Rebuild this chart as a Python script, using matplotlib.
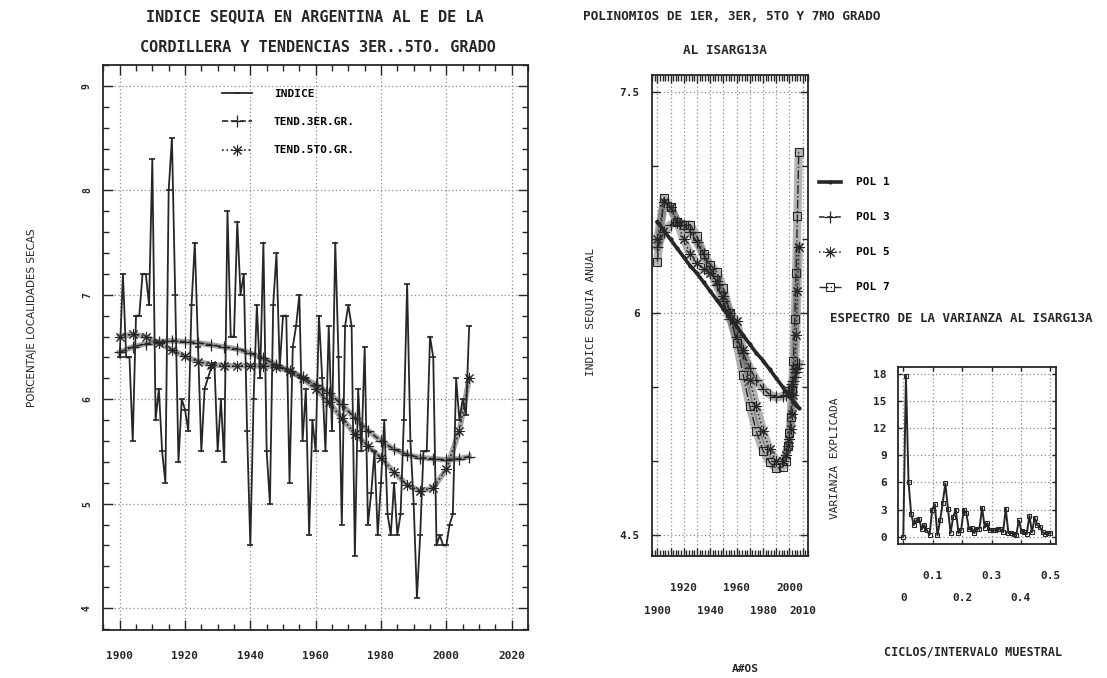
import numpy as np
import matplotlib.pyplot as plt
import matplotlib.transforms as mtransforms
from matplotlib.ticker import MultipleLocator

# ---------------- data ----------------
# left panel: yearly drought index 1900-2007 and its polynomial trends
indice = [6.4, 7.2, 6.4, 6.4, 5.6, 6.8, 6.8, 7.2, 7.2, 6.9,      # 1900-1909
          8.3, 5.8, 6.1, 5.5, 5.2, 8.0, 8.5, 7.0, 5.4, 6.0,      # 1910-1919
          5.9, 5.7, 6.9, 7.5, 6.5, 5.5, 6.1, 6.2, 6.3, 6.35,     # 1920-1929
          5.5, 6.0, 5.4, 7.8, 6.6, 6.6, 7.7, 7.0, 7.2, 5.7,      # 1930-1939
          4.6, 6.0, 6.9, 6.2, 7.5, 5.5, 5.0, 6.9, 7.4, 6.3,      # 1940-1949
          6.8, 6.8, 5.2, 6.5, 6.7, 7.0, 5.6, 6.1, 4.7, 5.8,      # 1950-1959
          5.5, 6.8, 6.2, 5.5, 6.7, 5.7, 7.5, 6.4, 4.8, 6.7,      # 1960-1969
          6.9, 6.7, 4.5, 6.1, 5.5, 6.5, 4.8, 5.1, 5.5, 4.7,      # 1970-1979
          5.2, 5.8, 4.9, 4.7, 5.2, 4.7, 4.9, 5.8, 7.1, 5.6,      # 1980-1989
          5.0, 4.1, 4.7, 5.5, 5.5, 6.6, 6.4, 4.6, 4.7, 4.6,      # 1990-1999
          4.6, 4.8, 4.9, 6.2, 5.8, 6.0, 5.85, 6.7]               # 2000-2007
anios = np.arange(1900, 1900 + len(indice))

anios_tend = [1900, 1904, 1908, 1912, 1916, 1920, 1924, 1928, 1932, 1936,
              1940, 1944, 1948, 1952, 1956, 1960, 1964, 1968, 1972, 1976,
              1980, 1984, 1988, 1992, 1996, 2000, 2004, 2007]
tend_3er = [6.45, 6.50, 6.53, 6.55, 6.56, 6.55, 6.54, 6.52, 6.50, 6.48,
            6.44, 6.39, 6.33, 6.27, 6.21, 6.14, 6.06, 5.95, 5.82, 5.70,
            5.60, 5.52, 5.47, 5.44, 5.43, 5.42, 5.43, 5.45]
tend_5to = [6.60, 6.62, 6.60, 6.54, 6.47, 6.41, 6.36, 6.33, 6.32, 6.32,
            6.32, 6.32, 6.31, 6.27, 6.20, 6.10, 5.97, 5.82, 5.67, 5.55,
            5.44, 5.30, 5.18, 5.12, 5.15, 5.33, 5.70, 6.20]

# middle panel: polynomial fits to ISARG13A
anios_pol = [1900, 1905, 1910, 1915, 1920, 1925, 1930, 1935, 1940, 1945,
             1950, 1955, 1960, 1965, 1970, 1975, 1980, 1985, 1990, 1995,
             1997, 1999, 2000, 2001, 2002, 2003, 2004, 2005, 2006, 2007]
pol_1 = [6.62, 6.56, 6.50, 6.44, 6.38, 6.32, 6.27, 6.21, 6.15, 6.09,
         6.03, 5.97, 5.91, 5.85, 5.79, 5.73, 5.68, 5.62, 5.56, 5.50,
         5.47, 5.45, 5.44, 5.43, 5.42, 5.40, 5.39, 5.38, 5.37, 5.36]
pol_3 = [6.45, 6.55, 6.60, 6.62, 6.60, 6.55, 6.48, 6.40, 6.30, 6.19,
         6.08, 5.96, 5.84, 5.73, 5.63, 5.55, 5.49, 5.45, 5.43, 5.44,
         5.45, 5.47, 5.48, 5.50, 5.52, 5.54, 5.57, 5.60, 5.63, 5.66]
pol_5 = [6.50, 6.75, 6.72, 6.62, 6.50, 6.40, 6.34, 6.30, 6.27, 6.22,
         6.12, 6.00, 5.95, 5.75, 5.55, 5.37, 5.20, 5.08, 5.00, 5.00,
         5.04, 5.10, 5.15, 5.22, 5.32, 5.45, 5.62, 5.85, 6.15, 6.45]
pol_7 = [6.35, 6.78, 6.72, 6.62, 6.60, 6.60, 6.52, 6.40, 6.33, 6.28,
         6.17, 6.00, 5.80, 5.58, 5.37, 5.20, 5.07, 4.99, 4.95, 4.96,
         5.00, 5.10, 5.19, 5.30, 5.48, 5.68, 5.96, 6.27, 6.66, 7.09]

# right panel: variance spectrum, harmonics 0..0.5 cycles/interval
varianza = [0.0, 17.8, 6.0, 2.5, 1.3, 1.8, 2.0, 0.8, 1.3, 0.7,
            0.2, 3.0, 3.6, 0.15, 1.8, 3.7, 5.9, 3.1, 0.4, 2.2,
            3.0, 0.4, 0.7, 3.0, 2.6, 0.8, 1.0, 0.4, 0.9, 0.9,
            3.2, 1.0, 1.5, 0.7, 0.7, 0.7, 0.9, 0.8, 0.5, 3.1,
            0.4, 0.4, 0.3, 0.2, 1.8, 0.6, 0.5, 0.3, 2.3, 0.5,
            2.1, 1.3, 1.1, 0.5, 0.3, 0.4, 0.4]
frecuencia = np.linspace(0, 0.5, len(varianza))

# ---------------- style ----------------
plt.rcParams['font.family'] = 'DejaVu Sans Mono'
plt.rcParams['font.weight'] = 'bold'
INK = '#262626'
BAND = '#5a5a5a'
GRID = '#8c8c8c'
W, H = 1107, 678
fig = plt.figure(figsize=(W / 100, H / 100), dpi=100)


def axes_px(left, top, right, bottom):
    return fig.add_axes([left / W, 1 - bottom / H, (right - left) / W, (bottom - top) / H])


def text_px(x, y, s, **kw):
    fig.text(x / W, 1 - y / H, s, **kw)


def stagger(ax, vals, labels, dy):
    tr = mtransforms.offset_copy(ax.get_xaxis_transform(), fig=fig, x=0, y=-dy, units='dots')
    for v, lab in zip(vals, labels):
        ax.text(v, 0, lab, transform=tr, ha='center', va='center', fontsize=8, color=INK)


def frame(ax):
    for s in ax.spines.values():
        s.set_linewidth(1.3)
        s.set_color(INK)
    ax.tick_params(which='both', direction='in', top=True, right=True, colors=INK, width=1)


# ---------------- left panel ----------------
ax1 = axes_px(103, 65, 528, 630)
# the plotter drew a marker every year on the trends -> heavy bands
ax1.plot(anios_tend, tend_3er, color=BAND, lw=4, alpha=0.55, zorder=1)
ax1.plot(anios_tend, tend_5to, color=BAND, lw=4, alpha=0.55, zorder=1)
l_ind, = ax1.plot(anios, indice, color=INK, lw=1.3, marker='_', ms=5, mew=1.2, zorder=3)
l_3er, = ax1.plot(anios_tend, tend_3er, color=INK, lw=1.2, ls='--', marker='+', ms=8, mew=0.9,
                  zorder=2)
l_5to, = ax1.plot(anios_tend, tend_5to, color=INK, lw=1.2, ls=':', marker=(8, 2, 0), ms=8,
                  mew=0.7, zorder=2)
ax1.set_xlim(1894.9, 2025)
ax1.set_ylim(3.79, 9.2)
ax1.xaxis.set_major_locator(MultipleLocator(20))
ax1.xaxis.set_minor_locator(MultipleLocator(5))
ax1.yaxis.set_major_locator(MultipleLocator(1))
ax1.yaxis.set_minor_locator(MultipleLocator(0.2))
ax1.grid(True, which='major', ls=(0, (1, 2)), color=GRID, lw=0.9)
frame(ax1)
ax1.tick_params(which='major', length=7)
ax1.tick_params(which='minor', length=4)
ax1.tick_params(axis='x', pad=15, labelsize=8)
ax1.tick_params(axis='y', pad=8, labelsize=7)
for t in ax1.get_yticklabels():
    t.set_rotation(90)
    t.set_va('center')
ax1.set_ylabel('PORCENTAJE LOCALIDADES SECAS', fontfamily='DejaVu Sans', fontweight='normal',
               fontsize=7.5, color=INK)
ax1.yaxis.set_label_coords(-0.155, 0.552)
ax1.legend([l_ind, l_3er, l_5to], ['INDICE', 'TEND.3ER.GR.', 'TEND.5TO.GR.'],
           loc='upper left', bbox_to_anchor=(0.279, 0.958), frameon=False, fontsize=8,
           handlelength=2.7, handletextpad=2.0, labelspacing=1.65, borderpad=0, borderaxespad=0)

text_px(315, 17, 'INDICE SEQUIA EN ARGENTINA AL E DE LA', ha='center', va='center',
        fontsize=11, color=INK)
text_px(318, 48, 'CORDILLERA Y TENDENCIAS 3ER..5TO. GRADO', ha='center', va='center',
        fontsize=11, color=INK)

# ---------------- middle panel ----------------
ax2 = axes_px(652, 75, 808, 556)
for serie in (pol_3, pol_5, pol_7):
    ax2.plot(anios_pol, serie, color=BAND, lw=6, alpha=0.45, zorder=1)
h1, = ax2.plot(anios_pol, pol_1, color=INK, lw=2.6, ls='-', marker='.', ms=4, zorder=3)
h3, = ax2.plot(anios_pol, pol_3, color=INK, lw=1.1, ls='--', marker='+', ms=8, mew=0.9, zorder=2)
h5, = ax2.plot(anios_pol, pol_5, color=INK, lw=1.1, ls=':', marker=(8, 2, 0), ms=8, mew=0.7,
               zorder=2)
h7, = ax2.plot(anios_pol, pol_7, color=INK, lw=1.0, ls='-.', marker='s', ms=6, mew=0.8,
               mfc='none', zorder=2)
ax2.set_xlim(1896, 2014)
ax2.set_ylim(4.357, 7.613)
ax2.xaxis.set_major_locator(MultipleLocator(10))
ax2.xaxis.set_minor_locator(MultipleLocator(2))
ax2.yaxis.set_minor_locator(MultipleLocator(0.5))
ax2.set_yticks([4.5, 6, 7.5])
ax2.set_yticklabels(['4.5', '6', '7.5'])
ax2.grid(True, which='major', ls=(0, (1, 2)), color=GRID, lw=0.9)
frame(ax2)
ax2.tick_params(which='major', length=6)
ax2.tick_params(which='minor', length=4)
ax2.tick_params(axis='x', labelbottom=False)
ax2.tick_params(axis='y', pad=9, labelsize=8)
stagger(ax2, [1920, 1960, 2000], ['1920', '1960', '2000'], 32)
stagger(ax2, [1900, 1940, 1980, 2010], ['1900', '1940', '1980', '2010'], 55)
ax2.set_ylabel('INDICE SEQUIA ANUAL', fontsize=8, color=INK)
ax2.yaxis.set_label_coords(-0.359, 0.507)
ax2.legend([h1, h3, h5, h7], ['POL 1', 'POL 3', 'POL 5', 'POL 7'],
           loc='upper left', bbox_to_anchor=(1.07, 0.787), frameon=False, fontsize=8,
           handlelength=2.0, handletextpad=1.3, labelspacing=2.25, borderpad=0, borderaxespad=0)

text_px(732, 17, 'POLINOMIOS DE 1ER, 3ER, 5TO Y 7MO GRADO', ha='center', va='center',
        fontsize=9.2, color=INK)
text_px(725, 51, 'AL ISARG13A', ha='center', va='center', fontsize=9.2, color=INK)
text_px(745, 669, 'A#OS', ha='center', va='center', fontsize=8, color=INK)

# ---------------- right panel ----------------
ax3 = axes_px(898, 367, 1056, 544)
ax3.plot(frecuencia, varianza, color=INK, lw=1.4, marker='s', ms=2.5, mew=0.8, mfc='none')
ax3.set_xlim(-0.018, 0.519)
ax3.set_ylim(-0.81, 18.77)
ax3.xaxis.set_major_locator(MultipleLocator(0.1))
ax3.set_yticks([0, 3, 6, 9, 12, 15, 18])
ax3.set_yticklabels(['0', '3', '6', '9', '12', '15', '18'])
ax3.grid(True, which='major', ls=(0, (1, 2)), color=GRID, lw=0.9)
frame(ax3)
ax3.tick_params(which='major', length=3)
ax3.tick_params(axis='x', labelbottom=False)
ax3.tick_params(axis='y', pad=8, labelsize=8)
stagger(ax3, [0.1, 0.3, 0.5], ['0.1', '0.3', '0.5'], 32)
stagger(ax3, [0, 0.2, 0.4], ['0', '0.2', '0.4'], 54)
ax3.set_ylabel('VARIANZA EXPLICADA', fontsize=8, color=INK)
ax3.yaxis.set_label_coords(-0.367, 0.486)

text_px(830, 318, 'ESPECTRO DE LA VARIANZA AL ISARG13A', ha='left', va='center',
        fontsize=9, color=INK)
text_px(973, 652, 'CICLOS/INTERVALO MUESTRAL', ha='center', va='center', fontsize=8.5,
        color=INK)

fig.savefig('out.png', dpi=100, facecolor='white')
